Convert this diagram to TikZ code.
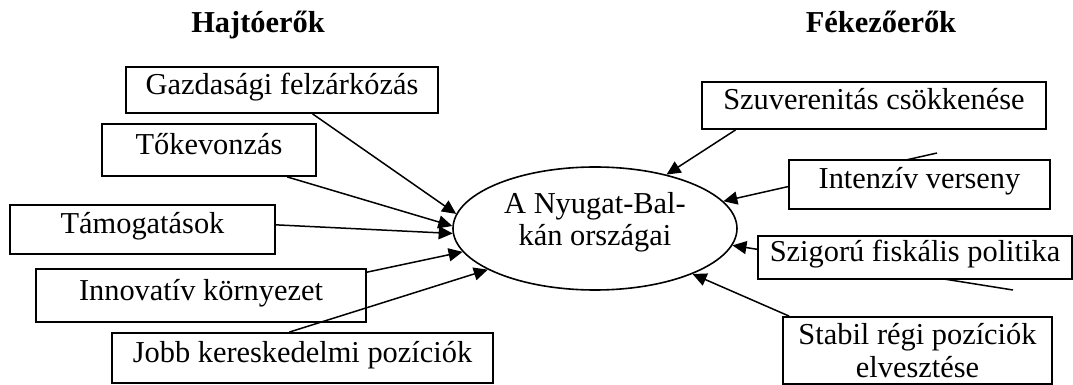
\documentclass[tikz,border=0pt]{standalone}
\usepackage{fontspec}
\setmainfont{Liberation Serif}
\usepackage{tikz}
\usetikzlibrary{arrows.meta,shapes.geometric}
\tikzstyle{box}=[rectangle,draw=black,fill=white,line width=0.9pt,inner sep=0pt,
  font=\fontsize{15.2}{16.5}\selectfont,text height=9pt,text depth=4.5pt]
\tikzstyle{box2}=[rectangle,draw=black,fill=white,line width=0.9pt,inner sep=0pt,
  font=\fontsize{15.2}{16.5}\selectfont,align=center]
\tikzstyle{oval}=[ellipse,draw=black,fill=white,line width=0.8pt,inner sep=0pt,
  minimum width=142pt,minimum height=61.5pt,align=center,
  font=\fontsize{15.2}{16.5}\selectfont,text height=20.5pt,text depth=3pt]
\tikzstyle{head}=[font=\bfseries\fontsize{15.2}{16.5}\selectfont,anchor=base]
\tikzstyle{arr}=[-{Triangle[length=7pt,width=6.5pt]},line width=0.75pt]
\tikzstyle{none}=[]

\begin{document}
\begin{tikzpicture}[x=0.5pt,y=-0.5pt]
        \useasboundingbox (0, 0) rectangle (1073, 385);
        \node [style=head] (0) at (258, 33) {Hajtóerők};
        \node [style=head] (1) at (881, 33) {Fékezőerők};
        \node [style=oval] (2) at (595, 228.5) {A Nyugat-Bal-\\kán országai};
        \coordinate (12) at (937, 153);
        \coordinate (13) at (1013, 290);
        \draw [style=arr] (12) to (2.12);
        \draw [style=arr] (13) to (2.353);
        \node [style=box, minimum width=156pt, minimum height=23pt] (3) at (282, 90) {Gazdasági felzárkózás};
        \node [style=box, minimum width=107pt, minimum height=26pt] (4) at (209, 150) {Tőkevonzás};
        \node [style=box, minimum width=132.5pt, minimum height=24.5pt] (5) at (142.5, 229.5) {Támogatások};
        \node [style=box, minimum width=165pt, minimum height=26.5pt] (6) at (201, 295.5) {Innovatív környezet};
        \node [style=box, minimum width=190.5pt, minimum height=25pt] (7) at (302.5, 358) {Jobb kereskedelmi pozíciók};
        \node [style=box, minimum width=172pt, minimum height=23.5pt] (8) at (874, 105.5) {Szuverenitás csökkenése};
        \node [style=box, minimum width=130.5pt, minimum height=24.5pt] (9) at (919.5, 184.5) {Intenzív verseny};
        \node [style=box, minimum width=157pt, minimum height=21.5pt] (10) at (915, 257.5) {Szigorú fiskális politika};
        \node [style=box2, minimum width=134.5pt, minimum height=33.5pt] (11) at (917.5, 350.5) {Stabil régi pozíciók\\elvesztése};
        \draw [style=arr] (3.322) to (2.174);
        \draw [style=arr] (4.341) to (2.179);
        \draw [style=arr] (5.2) to (2.182);
        \draw [style=arr] (6.8) to (2.190);
        \draw [style=arr] (7.117) to (2.201);
        \draw [style=arr] (8.190) to (2.37);
        \draw [style=arr] (11.165) to (2.335);
\end{tikzpicture}
\end{document}
